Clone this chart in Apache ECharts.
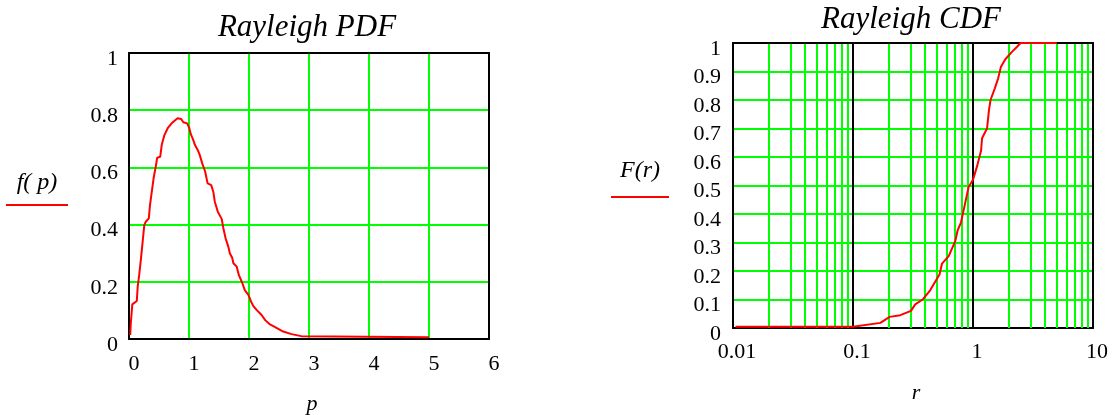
<!DOCTYPE html>
<html>
<head>
<meta charset="utf-8">
<script src="https://cdn.jsdelivr.net/npm/echarts@6/dist/echarts.min.js"></script>
<style>
html,body{margin:0;padding:0;background:#fff;}
#chart{width:1116px;height:415px;}
</style>
</head>
<body>
<div id="chart"></div>
<script>
// ---- Data ----
const pdfP = [0.02,0.03,0.055,0.13,0.145,0.17,0.2,0.23,0.255,0.28,0.33,0.35,0.38,0.41,0.445,0.47,0.52,0.545,0.59,0.645,0.71,0.81,0.87,0.905,0.97,1.005,1.03,1.07,1.1,1.145,1.18,1.22,1.27,1.31,1.37,1.405,1.43,1.48,1.545,1.57,1.61,1.655,1.68,1.72,1.74,1.795,1.83,1.89,1.93,1.99,2.03,2.07,2.13,2.21,2.27,2.35,2.45,2.57,2.71,2.87,2.9,5.0];
const pdfF = [0.014,0.055,0.121,0.133,0.183,0.224,0.282,0.346,0.399,0.41,0.422,0.468,0.515,0.562,0.602,0.634,0.637,0.678,0.713,0.737,0.754,0.772,0.769,0.758,0.754,0.737,0.716,0.696,0.678,0.661,0.643,0.614,0.585,0.544,0.538,0.515,0.48,0.445,0.42,0.39,0.352,0.323,0.3,0.284,0.265,0.253,0.224,0.195,0.171,0.154,0.133,0.116,0.101,0.084,0.066,0.051,0.04,0.026,0.017,0.01,0.006,0.006];

const cdfR = [0.0105,0.1,0.169,0.202,0.248,0.304,0.33,0.383,0.441,0.527,0.552,0.627,0.713,0.745,0.794,0.847,0.919,1.0,1.08,1.167,1.19,1.31,1.36,1.40,1.52,1.62,1.71,1.86,2.11,2.33,2.49,5.0];
const cdfF = [0.004,0.004,0.018,0.039,0.045,0.06,0.083,0.101,0.133,0.189,0.226,0.252,0.306,0.343,0.37,0.425,0.495,0.52,0.567,0.622,0.666,0.701,0.766,0.80,0.841,0.876,0.917,0.943,0.969,0.987,1.0,1.0];

// minor (2..9 per decade) grid values on the log axis
const cdfMinorGrid = [0.02,0.03,0.04,0.05,0.06,0.07,0.08,0.09,0.2,0.3,0.4,0.5,0.6,0.7,0.8,0.9,2,3,4,5,6,7,8,9];

const titles = ['Rayleigh PDF', 'Rayleigh CDF'];
const yNames = ['f( p)', 'F(r)'];
const xNames = ['p', 'r'];

// ---- Styles ----
const SERIF = "'Liberation Serif','Times New Roman',serif";
const GREEN = '#00ff00';
const RED = '#ff0000';
const tickFont = {fontFamily: SERIF, fontSize: 22, color: '#000'};

function zip(a, b) { return a.map((v, i) => [v, b[i]]); }
function fmt(v) { return String(+(+v).toPrecision(6)); }

function yName(t, gap, w, l1, l2) {
  return {
    name: '{t|' + t + '}\n{l|}',
    nameLocation: 'middle',
    nameRotate: 0,
    nameGap: gap,
    nameTextStyle: {
      rich: {
        t: {fontFamily: SERIF, fontStyle: 'italic', fontSize: 24, color: '#000', width: w, align: 'center', lineHeight: l1},
        l: {width: w, height: 2, backgroundColor: RED, lineHeight: l2}
      }
    }
  };
}

const xNameStyle = {fontFamily: SERIF, fontStyle: 'italic', fontSize: 22, color: '#000', padding: [0, 0, 0, 6]};
const yLabel = (m) => Object.assign({margin: m, verticalAlign: 'top', lineHeight: 12, formatter: fmt}, tickFont);

const chart = echarts.init(document.getElementById('chart'), null, {renderer: 'canvas'});
const option = {
  animation: false,
  backgroundColor: '#fff',
  title: [
    {text: titles[0], left: 307, top: 12, textAlign: 'center', padding: 0,
     textStyle: {fontFamily: SERIF, fontStyle: 'italic', fontWeight: 'normal', fontSize: 31, color: '#000'}},
    {text: titles[1], left: 911, top: 4, textAlign: 'center', padding: 0,
     textStyle: {fontFamily: SERIF, fontStyle: 'italic', fontWeight: 'normal', fontSize: 31, color: '#000'}}
  ],
  grid: [
    {left: 129, top: 53, width: 360, height: 286, containLabel: false, outerBoundsMode: 'none'},
    {left: 733, top: 43, width: 360, height: 285, containLabel: false, outerBoundsMode: 'none'}
  ],
  xAxis: [
    {gridIndex: 0, type: 'value', min: 0, max: 6, interval: 1, position: 'bottom',
     name: xNames[0], nameLocation: 'middle', nameGap: 54, nameTextStyle: xNameStyle,
     axisLine: {show: true, onZero: false, lineStyle: {color: '#000', width: 2}},
     axisTick: {show: false},
     axisLabel: Object.assign({margin: 14, padding: [0, 0, 0, 10], formatter: fmt}, tickFont),
     splitLine: {show: true, showMinLine: false, showMaxLine: true, lineStyle: {color: GREEN, width: 2}}},
    {gridIndex: 0, type: 'value', min: 0, max: 6, position: 'top', z: 5,
     axisLine: {show: true, onZero: false, lineStyle: {color: '#000', width: 2}},
     axisTick: {show: false}, axisLabel: {show: false}, splitLine: {show: false}},
    {gridIndex: 1, type: 'log', logBase: 10, min: 0.01, max: 10, position: 'bottom',
     name: xNames[1], nameLocation: 'middle', nameGap: 54, nameTextStyle: xNameStyle,
     axisLine: {show: true, onZero: false, lineStyle: {color: '#000', width: 2}},
     axisTick: {show: false},
     axisLabel: Object.assign({margin: 13, padding: [0, 0, 0, 8], formatter: fmt}, tickFont),
     splitLine: {show: true, lineStyle: {color: '#000', width: 2}}},
    {gridIndex: 1, type: 'log', logBase: 10, min: 0.01, max: 10, position: 'top', z: 5,
     axisLine: {show: true, onZero: false, lineStyle: {color: '#000', width: 2}},
     axisTick: {show: false}, axisLabel: {show: false}, splitLine: {show: false}}
  ],
  yAxis: [
    Object.assign({gridIndex: 0, type: 'value', min: 0, max: 1, interval: 0.2, position: 'left',
     axisLine: {show: true, onZero: false, lineStyle: {color: '#000', width: 2}},
     axisTick: {show: false},
     axisLabel: yLabel(11),
     splitLine: {show: true, showMinLine: false, showMaxLine: true, lineStyle: {color: GREEN, width: 2}}},
     yName(yNames[0], 61, 62, 18, 26)),
    {gridIndex: 0, type: 'value', min: 0, max: 1, position: 'right', z: 5,
     axisLine: {show: true, onZero: false, lineStyle: {color: '#000', width: 2}},
     axisTick: {show: false}, axisLabel: {show: false}, splitLine: {show: false}},
    Object.assign({gridIndex: 1, type: 'value', min: 0, max: 1, interval: 0.1, position: 'left',
     axisLine: {show: true, onZero: false, lineStyle: {color: '#000', width: 2}},
     axisTick: {show: false},
     axisLabel: yLabel(12),
     splitLine: {show: true, showMinLine: false, showMaxLine: true, lineStyle: {color: GREEN, width: 2}}},
     yName(yNames[1], 64, 58, 23, 29)),
    {gridIndex: 1, type: 'value', min: 0, max: 1, position: 'right', z: 5,
     axisLine: {show: true, onZero: false, lineStyle: {color: '#000', width: 2}},
     axisTick: {show: false}, axisLabel: {show: false}, splitLine: {show: false}}
  ],
  series: [
    {type: 'line', xAxisIndex: 0, yAxisIndex: 0, data: zip(pdfP, pdfF), z: 10,
     showSymbol: false, symbol: 'none', lineStyle: {color: RED, width: 2}, itemStyle: {color: RED}, silent: true},
    {type: 'line', xAxisIndex: 2, yAxisIndex: 2, data: zip(cdfR, cdfF), z: 10,
     showSymbol: false, symbol: 'none', lineStyle: {color: RED, width: 2}, itemStyle: {color: RED}, silent: true,
     markLine: {silent: true, z: 1, symbol: ['none', 'none'], label: {show: false},
       lineStyle: {color: GREEN, width: 2, type: 'solid'}, emphasis: {disabled: true},
       data: cdfMinorGrid.map(v => ({xAxis: v}))}}
  ]
};
chart.setOption(option);
</script>
</body>
</html>
